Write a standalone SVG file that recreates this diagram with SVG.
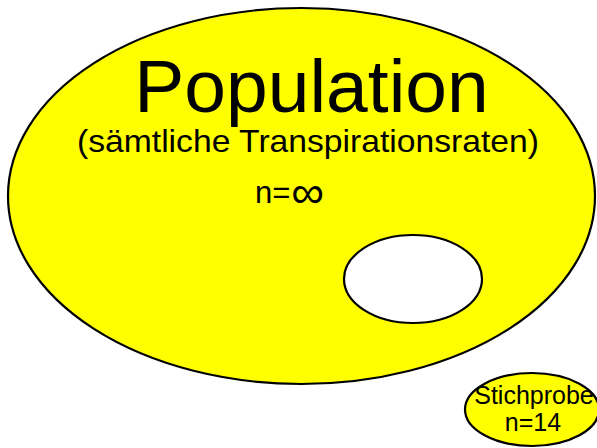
<svg xmlns="http://www.w3.org/2000/svg" width="597" height="448" viewBox="0 0 597 448">
<style>
.shape{stroke:#000;stroke-width:2.2}
.t{font-family:"Liberation Sans",Arial,sans-serif;fill:#000;text-anchor:middle}
.s{font-family:"Liberation Sans",Arial,sans-serif;fill:#000}
</style>
<rect width="597" height="448" fill="#fff"/>
<g id="population">
<ellipse class="shape" cx="301.5" cy="196" rx="293.5" ry="188" fill="#ffff00"/>
<text class="t" x="311.5" y="111.5" font-size="75">Population</text>
<text class="t" x="308" y="151.5" font-size="32" textLength="462" lengthAdjust="spacingAndGlyphs">(sämtliche Transpirationsraten)</text>
<text class="s" x="255" y="203" font-size="31">n=<tspan font-size="46" dx="1" dy="5">∞</tspan></text>
</g>
<g id="sample-area">
<ellipse class="shape" cx="413" cy="279" rx="69" ry="44" fill="#fff"/>
</g>
<g id="stichprobe">
<ellipse class="shape" cx="532" cy="409.5" rx="67" ry="36.5" fill="#ffff00"/>
<text class="t" x="534" y="404" font-size="25">Stichprobe</text>
<text class="t" x="533" y="431" font-size="25">n=14</text>
</g>
<g id="connectors"/>
</svg>
